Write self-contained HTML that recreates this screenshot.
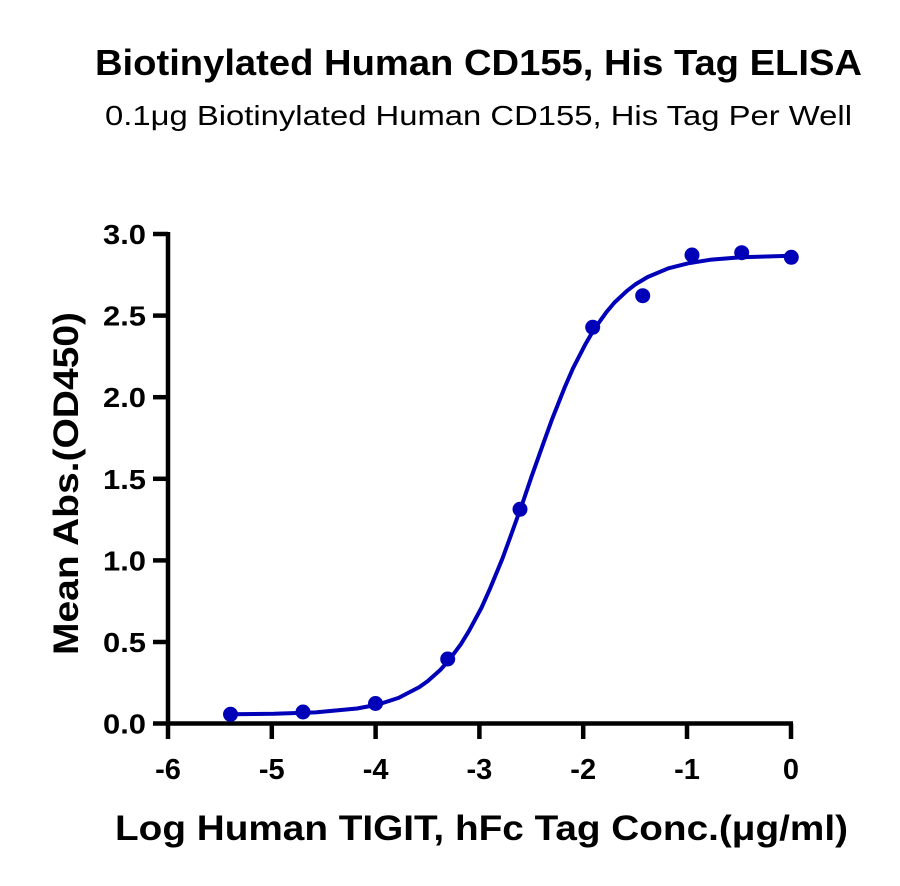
<!DOCTYPE html>
<html>
<head>
<meta charset="utf-8">
<style>
  html,body{margin:0;padding:0;background:#fff;}
  svg{display:block;}
  text{font-family:"Liberation Sans", sans-serif;fill:#000;}
</style>
</head>
<body>
<svg width="900" height="886" viewBox="0 0 900 886" xmlns="http://www.w3.org/2000/svg">
  <rect width="900" height="886" fill="#fff"/>
  <!-- Titles -->
  <text x="478.5" y="75" font-size="36" font-weight="bold" text-anchor="middle" textLength="767" lengthAdjust="spacingAndGlyphs">Biotinylated Human CD155, His Tag ELISA</text>
  <text x="478.5" y="125" font-size="28" text-anchor="middle" textLength="747" lengthAdjust="spacingAndGlyphs">0.1μg Biotinylated Human CD155, His Tag Per Well</text>

  <!-- Axes -->
  <g stroke="#000" stroke-width="4.5" fill="none" stroke-linecap="butt">
    <line x1="168" y1="232" x2="168" y2="725.5"/>
    <line x1="166" y1="723.5" x2="793" y2="723.5"/>
    <!-- y ticks -->
    <line x1="153" y1="234" x2="168" y2="234"/>
    <line x1="153" y1="315.6" x2="168" y2="315.6"/>
    <line x1="153" y1="397.2" x2="168" y2="397.2"/>
    <line x1="153" y1="478.8" x2="168" y2="478.8"/>
    <line x1="153" y1="560.4" x2="168" y2="560.4"/>
    <line x1="153" y1="642" x2="168" y2="642"/>
    <line x1="153" y1="723.5" x2="168" y2="723.5"/>
    <!-- x ticks -->
    <line x1="168" y1="723.5" x2="168" y2="739"/>
    <line x1="271.8" y1="723.5" x2="271.8" y2="739"/>
    <line x1="375.6" y1="723.5" x2="375.6" y2="739"/>
    <line x1="479.4" y1="723.5" x2="479.4" y2="739"/>
    <line x1="583.2" y1="723.5" x2="583.2" y2="739"/>
    <line x1="687" y1="723.5" x2="687" y2="739"/>
    <line x1="791" y1="723.5" x2="791" y2="739"/>
  </g>

  <!-- Y tick labels -->
  <g font-size="28" font-weight="bold" text-anchor="end">
    <text x="146" y="244" textLength="43" lengthAdjust="spacingAndGlyphs">3.0</text>
    <text x="146" y="325.6" textLength="43" lengthAdjust="spacingAndGlyphs">2.5</text>
    <text x="146" y="407.2" textLength="43" lengthAdjust="spacingAndGlyphs">2.0</text>
    <text x="146" y="488.8" textLength="43" lengthAdjust="spacingAndGlyphs">1.5</text>
    <text x="146" y="570.4" textLength="43" lengthAdjust="spacingAndGlyphs">1.0</text>
    <text x="146" y="652" textLength="43" lengthAdjust="spacingAndGlyphs">0.5</text>
    <text x="146" y="733.5" textLength="43" lengthAdjust="spacingAndGlyphs">0.0</text>
  </g>
  <!-- X tick labels -->
  <g font-size="29" font-weight="bold" text-anchor="middle">
    <text x="168" y="779">-6</text>
    <text x="271.8" y="779">-5</text>
    <text x="375.6" y="779">-4</text>
    <text x="479.4" y="779">-3</text>
    <text x="583.2" y="779">-2</text>
    <text x="687" y="779">-1</text>
    <text x="791" y="779">0</text>
  </g>

  <!-- Axis labels -->
  <text x="481.5" y="840" font-size="35" font-weight="bold" text-anchor="middle" textLength="733" lengthAdjust="spacingAndGlyphs">Log Human TIGIT, hFc Tag Conc.(μg/ml)</text>
  <text transform="translate(78,483.5) rotate(-90)" x="0" y="0" font-size="35" font-weight="bold" text-anchor="middle" textLength="343" lengthAdjust="spacingAndGlyphs">Mean Abs.(OD450)</text>

  <!-- Fitted curve -->
  <polyline fill="none" stroke="#0000b8" stroke-width="4" stroke-linejoin="round" stroke-linecap="round"
    points="230.5,714.3 274,713.8 315.5,712.4 357,708.5 377.8,704.6 398.6,697.9 419.3,687.1 427.7,681.1 440.1,670.1 448.5,660.8 460.8,644.3 469.2,630.6 481.6,607.5 490,588.7 502.4,558.7 510.7,535.9 523.1,501.4 531.5,476.7 543.9,441.8 552.3,418.6 564.6,387.6 573,368.3 585.4,344.2 593.8,329.7 606.2,312.4 614.5,302.5 626.9,290.9 635.3,284.4 647.7,277.0 668.4,268.3 689.2,263.1 710,259.8 741.1,257.2 791,255.8"/>

  <!-- Data points -->
  <g fill="#0000b8">
    <circle cx="230.5" cy="714.3" r="7.5"/>
    <circle cx="303" cy="712" r="7.5"/>
    <circle cx="375.5" cy="703.5" r="7.5"/>
    <circle cx="447.7" cy="659" r="7.5"/>
    <circle cx="520" cy="509.3" r="7.5"/>
    <circle cx="592.7" cy="327.3" r="7.5"/>
    <circle cx="642.7" cy="295.7" r="7.5"/>
    <circle cx="692" cy="255" r="7.5"/>
    <circle cx="741.7" cy="252.7" r="7.5"/>
    <circle cx="791.3" cy="257.3" r="7.5"/>
  </g>
</svg>
</body>
</html>
